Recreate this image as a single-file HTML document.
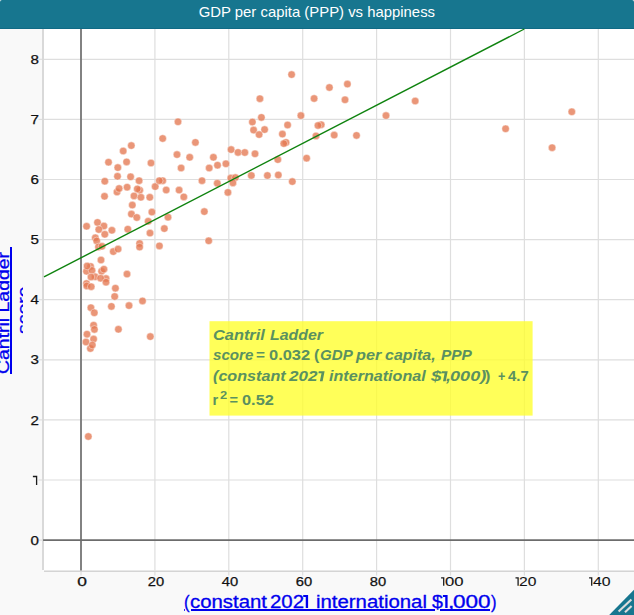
<!DOCTYPE html>
<html><head><meta charset="utf-8"><title>GDP per capita (PPP) vs happiness</title>
<style>
html,body{margin:0;padding:0;background:#f9f9f9;}
body{width:634px;height:615px;overflow:hidden;background:#f9f9f9;font-family:"Liberation Sans",sans-serif;position:relative;}
#hdr{position:absolute;left:0;top:0;width:634px;height:28px;background:#17768f;border-bottom:1px solid #106a85;border-radius:2px 2px 0 0;}
#ttl{position:absolute;left:0;top:0;width:634px;height:28px;line-height:25px;text-align:center;color:#fff;font-size:14.6px;white-space:nowrap;}
#ttl span{display:inline-block;transform:scaleX(1.02);transform-origin:50% 50%;}
svg{position:absolute;left:0;top:0;}
.yt{position:absolute;right:595.1px;transform:scaleX(1.2);transform-origin:100% 50%;font-size:12.6px;color:#111;line-height:14px;height:14px;text-align:right;-webkit-text-stroke:0.25px #111;}
.xt{position:absolute;top:574.5px;width:60px;margin-left:-30px;text-align:center;font-size:12.6px;color:#111;line-height:14px;transform:scaleX(1.17);-webkit-text-stroke:0.25px #111;}
.xt2{position:absolute;top:574.5px;font-size:12.6px;color:#111;line-height:14px;transform-origin:0 0;-webkit-text-stroke:0.1px #111;white-space:pre;}
.lnk{color:#0000ee;text-decoration:underline;white-space:nowrap;}
.xw{position:absolute;top:591.4px;font-size:17.5px;line-height:22px;transform-origin:0 0;color:#0000ee;-webkit-text-stroke:0.3px #0000ee;white-space:pre;}
#ylwrap{position:absolute;left:0;top:0;width:23.3px;height:615px;overflow:hidden;}
#yl{position:absolute;left:0;top:0;transform-origin:0 0;transform:translate(-6.5px,374px) rotate(-90deg) scaleX(1.143);font-size:17px;line-height:20px;-webkit-text-stroke:0.3px #0000ee;text-align:center;white-space:pre;text-decoration-thickness:1.5px;text-underline-offset:2px;}
.an{position:absolute;transform-origin:0 0;color:#5a9160;white-space:pre;}
.an i{font-style:italic;}
.an sup{font-size:10px;line-height:0;vertical-align:5px;}
</style></head><body>
<div id="hdr"></div>
<div id="ttl"><span id="ttls">GDP per capita (PPP) vs happiness</span></div>
<svg width="634" height="615" viewBox="0 0 634 615">
<rect x="43.1" y="29" width="596.9" height="541.6" fill="#fff"/>
<line x1="154.90" y1="29" x2="154.90" y2="570.6" stroke="#dedede" stroke-width="1.2"/>
<line x1="228.80" y1="29" x2="228.80" y2="570.6" stroke="#dedede" stroke-width="1.2"/>
<line x1="302.70" y1="29" x2="302.70" y2="570.6" stroke="#dedede" stroke-width="1.2"/>
<line x1="376.60" y1="29" x2="376.60" y2="570.6" stroke="#dedede" stroke-width="1.2"/>
<line x1="450.50" y1="29" x2="450.50" y2="570.6" stroke="#dedede" stroke-width="1.2"/>
<line x1="524.40" y1="29" x2="524.40" y2="570.6" stroke="#dedede" stroke-width="1.2"/>
<line x1="598.30" y1="29" x2="598.30" y2="570.6" stroke="#dedede" stroke-width="1.2"/>
<line x1="43.1" y1="480.00" x2="640" y2="480.00" stroke="#dedede" stroke-width="1.2"/>
<line x1="43.1" y1="419.90" x2="640" y2="419.90" stroke="#dedede" stroke-width="1.2"/>
<line x1="43.1" y1="359.80" x2="640" y2="359.80" stroke="#dedede" stroke-width="1.2"/>
<line x1="43.1" y1="299.70" x2="640" y2="299.70" stroke="#dedede" stroke-width="1.2"/>
<line x1="43.1" y1="239.60" x2="640" y2="239.60" stroke="#dedede" stroke-width="1.2"/>
<line x1="43.1" y1="179.50" x2="640" y2="179.50" stroke="#dedede" stroke-width="1.2"/>
<line x1="43.1" y1="119.40" x2="640" y2="119.40" stroke="#dedede" stroke-width="1.2"/>
<line x1="43.1" y1="59.30" x2="640" y2="59.30" stroke="#dedede" stroke-width="1.2"/>
<line x1="38.6" y1="540.10" x2="43.1" y2="540.10" stroke="#dedede" stroke-width="1.2"/>
<line x1="38.6" y1="480.00" x2="43.1" y2="480.00" stroke="#dedede" stroke-width="1.2"/>
<line x1="38.6" y1="419.90" x2="43.1" y2="419.90" stroke="#dedede" stroke-width="1.2"/>
<line x1="38.6" y1="359.80" x2="43.1" y2="359.80" stroke="#dedede" stroke-width="1.2"/>
<line x1="38.6" y1="299.70" x2="43.1" y2="299.70" stroke="#dedede" stroke-width="1.2"/>
<line x1="38.6" y1="239.60" x2="43.1" y2="239.60" stroke="#dedede" stroke-width="1.2"/>
<line x1="38.6" y1="179.50" x2="43.1" y2="179.50" stroke="#dedede" stroke-width="1.2"/>
<line x1="38.6" y1="119.40" x2="43.1" y2="119.40" stroke="#dedede" stroke-width="1.2"/>
<line x1="38.6" y1="59.30" x2="43.1" y2="59.30" stroke="#dedede" stroke-width="1.2"/>
<line x1="81.00" y1="571.6" x2="81.00" y2="575.6" stroke="#dedede" stroke-width="1.2"/>
<line x1="154.90" y1="571.6" x2="154.90" y2="575.6" stroke="#dedede" stroke-width="1.2"/>
<line x1="228.80" y1="571.6" x2="228.80" y2="575.6" stroke="#dedede" stroke-width="1.2"/>
<line x1="302.70" y1="571.6" x2="302.70" y2="575.6" stroke="#dedede" stroke-width="1.2"/>
<line x1="376.60" y1="571.6" x2="376.60" y2="575.6" stroke="#dedede" stroke-width="1.2"/>
<line x1="450.50" y1="571.6" x2="450.50" y2="575.6" stroke="#dedede" stroke-width="1.2"/>
<line x1="524.40" y1="571.6" x2="524.40" y2="575.6" stroke="#dedede" stroke-width="1.2"/>
<line x1="598.30" y1="571.6" x2="598.30" y2="575.6" stroke="#dedede" stroke-width="1.2"/>
<line x1="43.0" y1="29" x2="43.0" y2="569.9" stroke="#d9d9d9" stroke-width="2"/>
<line x1="44.0" y1="571.3" x2="640" y2="571.3" stroke="#d4d4d4" stroke-width="1.5"/>
<line x1="81.0" y1="29" x2="81.0" y2="570.6" stroke="#7c7c7c" stroke-width="1.9"/>
<line x1="43.1" y1="540.1" x2="640" y2="540.1" stroke="#6c6c6c" stroke-width="1.8"/>
<g fill="#e47852" fill-opacity="0.78" stroke="#fff" stroke-opacity="0.6" stroke-width="0.7">
<circle cx="162.7" cy="138.5" r="3.75"/>
<circle cx="131.3" cy="145.6" r="3.75"/>
<circle cx="123.2" cy="151.0" r="3.75"/>
<circle cx="177.0" cy="154.6" r="3.75"/>
<circle cx="108.5" cy="162.2" r="3.75"/>
<circle cx="126.6" cy="161.9" r="3.75"/>
<circle cx="151.0" cy="163.0" r="3.75"/>
<circle cx="117.8" cy="167.6" r="3.75"/>
<circle cx="117.5" cy="176.3" r="3.75"/>
<circle cx="130.6" cy="176.8" r="3.75"/>
<circle cx="104.8" cy="181.2" r="3.75"/>
<circle cx="139.1" cy="180.7" r="3.75"/>
<circle cx="162.7" cy="180.7" r="3.75"/>
<circle cx="155.2" cy="186.6" r="3.75"/>
<circle cx="127.1" cy="187.2" r="3.75"/>
<circle cx="117.0" cy="192.0" r="3.75"/>
<circle cx="139.7" cy="190.2" r="3.75"/>
<circle cx="166.2" cy="190.0" r="3.75"/>
<circle cx="104.5" cy="196.3" r="3.75"/>
<circle cx="134.0" cy="195.9" r="3.75"/>
<circle cx="140.9" cy="197.3" r="3.75"/>
<circle cx="149.8" cy="197.3" r="3.75"/>
<circle cx="132.3" cy="205.1" r="3.75"/>
<circle cx="131.4" cy="214.1" r="3.75"/>
<circle cx="151.9" cy="212.1" r="3.75"/>
<circle cx="136.8" cy="217.5" r="3.75"/>
<circle cx="168.0" cy="217.2" r="3.75"/>
<circle cx="148.2" cy="221.3" r="3.75"/>
<circle cx="97.5" cy="222.4" r="3.75"/>
<circle cx="86.6" cy="226.3" r="3.75"/>
<circle cx="103.9" cy="226.0" r="3.75"/>
<circle cx="98.8" cy="229.5" r="3.75"/>
<circle cx="111.9" cy="230.3" r="3.75"/>
<circle cx="127.8" cy="229.2" r="3.75"/>
<circle cx="164.3" cy="228.6" r="3.75"/>
<circle cx="179.1" cy="190.1" r="3.75"/>
<circle cx="259.9" cy="98.7" r="3.75"/>
<circle cx="261.4" cy="117.4" r="3.75"/>
<circle cx="252.4" cy="122.0" r="3.75"/>
<circle cx="178.0" cy="121.8" r="3.75"/>
<circle cx="253.6" cy="130.1" r="3.75"/>
<circle cx="264.6" cy="129.6" r="3.75"/>
<circle cx="259.1" cy="134.6" r="3.75"/>
<circle cx="195.4" cy="142.4" r="3.75"/>
<circle cx="231.1" cy="149.6" r="3.75"/>
<circle cx="238.0" cy="152.4" r="3.75"/>
<circle cx="244.8" cy="152.5" r="3.75"/>
<circle cx="255.0" cy="153.8" r="3.75"/>
<circle cx="189.7" cy="157.3" r="3.75"/>
<circle cx="213.4" cy="157.3" r="3.75"/>
<circle cx="291.6" cy="74.6" r="3.75"/>
<circle cx="347.4" cy="84.1" r="3.75"/>
<circle cx="329.4" cy="87.5" r="3.75"/>
<circle cx="314.1" cy="98.5" r="3.75"/>
<circle cx="345.0" cy="99.8" r="3.75"/>
<circle cx="300.9" cy="115.6" r="3.75"/>
<circle cx="287.6" cy="125.0" r="3.75"/>
<circle cx="321.2" cy="124.7" r="3.75"/>
<circle cx="318.0" cy="125.5" r="3.75"/>
<circle cx="282.4" cy="134.1" r="3.75"/>
<circle cx="316.0" cy="135.9" r="3.75"/>
<circle cx="334.2" cy="135.1" r="3.75"/>
<circle cx="356.5" cy="135.4" r="3.75"/>
<circle cx="286.0" cy="142.4" r="3.75"/>
<circle cx="283.8" cy="143.6" r="3.75"/>
<circle cx="277.8" cy="159.6" r="3.75"/>
<circle cx="306.6" cy="158.2" r="3.75"/>
<circle cx="415.2" cy="101.0" r="3.75"/>
<circle cx="386.0" cy="115.6" r="3.75"/>
<circle cx="505.6" cy="128.8" r="3.75"/>
<circle cx="571.8" cy="111.8" r="3.75"/>
<circle cx="552.1" cy="147.7" r="3.75"/>
<circle cx="181.1" cy="168.0" r="3.75"/>
<circle cx="217.5" cy="165.2" r="3.75"/>
<circle cx="225.9" cy="163.8" r="3.75"/>
<circle cx="209.2" cy="168.0" r="3.75"/>
<circle cx="202.0" cy="180.7" r="3.75"/>
<circle cx="217.3" cy="183.3" r="3.75"/>
<circle cx="230.8" cy="178.1" r="3.75"/>
<circle cx="235.4" cy="177.6" r="3.75"/>
<circle cx="232.9" cy="182.9" r="3.75"/>
<circle cx="251.3" cy="175.5" r="3.75"/>
<circle cx="267.4" cy="175.5" r="3.75"/>
<circle cx="183.8" cy="196.9" r="3.75"/>
<circle cx="227.9" cy="192.4" r="3.75"/>
<circle cx="204.3" cy="211.6" r="3.75"/>
<circle cx="208.7" cy="240.8" r="3.75"/>
<circle cx="278.3" cy="175.0" r="3.75"/>
<circle cx="292.3" cy="181.6" r="3.75"/>
<circle cx="104.8" cy="234.3" r="3.75"/>
<circle cx="95.3" cy="237.8" r="3.75"/>
<circle cx="96.7" cy="240.9" r="3.75"/>
<circle cx="98.5" cy="246.9" r="3.75"/>
<circle cx="102.0" cy="246.3" r="3.75"/>
<circle cx="113.3" cy="251.6" r="3.75"/>
<circle cx="139.6" cy="243.5" r="3.75"/>
<circle cx="139.6" cy="247.1" r="3.75"/>
<circle cx="101.0" cy="260.0" r="3.75"/>
<circle cx="90.6" cy="266.4" r="3.75"/>
<circle cx="101.6" cy="271.3" r="3.75"/>
<circle cx="86.5" cy="271.3" r="3.75"/>
<circle cx="92.0" cy="270.4" r="3.75"/>
<circle cx="127.0" cy="274.1" r="3.75"/>
<circle cx="95.1" cy="276.8" r="3.75"/>
<circle cx="106.0" cy="278.6" r="3.75"/>
<circle cx="86.5" cy="283.5" r="3.75"/>
<circle cx="86.8" cy="285.9" r="3.75"/>
<circle cx="115.4" cy="288.2" r="3.75"/>
<circle cx="114.7" cy="296.5" r="3.75"/>
<circle cx="90.9" cy="307.7" r="3.75"/>
<circle cx="94.3" cy="312.8" r="3.75"/>
<circle cx="111.4" cy="306.4" r="3.75"/>
<circle cx="129.0" cy="305.6" r="3.75"/>
<circle cx="93.6" cy="325.2" r="3.75"/>
<circle cx="94.4" cy="329.4" r="3.75"/>
<circle cx="118.4" cy="329.3" r="3.75"/>
<circle cx="87.0" cy="334.2" r="3.75"/>
<circle cx="93.6" cy="339.1" r="3.75"/>
<circle cx="86.0" cy="342.0" r="3.75"/>
<circle cx="90.4" cy="348.5" r="3.75"/>
<circle cx="150.0" cy="233.1" r="3.75"/>
<circle cx="159.4" cy="245.9" r="3.75"/>
<circle cx="142.5" cy="300.9" r="3.75"/>
<circle cx="150.3" cy="336.6" r="3.75"/>
<circle cx="88.3" cy="436.5" r="3.75"/>
<circle cx="87.1" cy="266.0" r="3.75"/>
<circle cx="91.0" cy="277.0" r="3.75"/>
<circle cx="100.6" cy="278.2" r="3.75"/>
<circle cx="106.0" cy="282.2" r="3.75"/>
<circle cx="103.9" cy="269.2" r="3.75"/>
<circle cx="91.2" cy="286.7" r="3.75"/>
<circle cx="119.1" cy="188.5" r="3.75"/>
<circle cx="118.1" cy="249.1" r="3.75"/>
<circle cx="92.3" cy="345.0" r="3.75"/>
<circle cx="159.3" cy="180.7" r="3.75"/>
<circle cx="137.3" cy="188.9" r="3.75"/>
</g>
<line x1="44.0" y1="276.9" x2="524.3" y2="29" stroke="#0f830f" stroke-width="1.4"/>
<rect x="209.5" y="321.2" width="323.1" height="94.4" fill="#ffff2c" fill-opacity="0.79"/>
<g fill="none" stroke="#1c1c1c" stroke-width="1.3" stroke-linejoin="miter">
<path d="M441.1,577.8 H443.7 V585.8"/>
<path d="M515.5,577.8 H518.1 V585.8"/>
<path d="M589.1,577.8 H591.7 V585.8"/>
<path d="M32.9,476.5 H36.6 V485.0"/>
</g>
<g fill="#0000ee">
<polygon points="303.2,595.1 308.1,595.1 308.1,607.9 305.75,607.9 305.75,597.05 303.2,597.05"/>
<polygon points="442.9,595.1 447.6,595.1 447.6,607.9 445.25,607.9 445.25,597.05 442.9,597.05"/>
</g>
<g fill="#5a9160">
<polygon points="318.8,371.3 324.6,371.3 322.6,381.3 319.9,381.3 321.5,373.2 318.4,373.2"/>
<polygon points="441.9,371.3 447.7,371.3 445.7,381.3 443.0,381.3 444.6,373.2 441.5,373.2"/>
</g>
<polygon points="634,589.8 634,615 609.2,615" fill="#17768f"/>
<line x1="618.6" y1="611.6" x2="631.4" y2="599.6" stroke="#dcdcdc" stroke-width="2.1"/>
<line x1="625" y1="612.2" x2="631.6" y2="605.9" stroke="#dcdcdc" stroke-width="2.1"/>
</svg>
<div class="yt" style="top:533.7px">0</div>
<div class="yt" style="top:413.5px">2</div>
<div class="yt" style="top:353.4px">3</div>
<div class="yt" style="top:293.3px">4</div>
<div class="yt" style="top:233.2px">5</div>
<div class="yt" style="top:173.1px">6</div>
<div class="yt" style="top:113.0px">7</div>
<div class="yt" style="top:52.9px">8</div>
<div class="xt" style="left:82.4px;transform:scaleX(1.38)">0</div>
<div class="xt" style="left:156.3px;transform:scaleX(1.17)">20</div>
<div class="xt" style="left:230.2px;transform:scaleX(1.17)">40</div>
<div class="xt" style="left:304.1px;transform:scaleX(1.17)">60</div>
<div class="xt" style="left:378.0px;transform:scaleX(1.17)">80</div>
<div class="xt2" style="left:444.77px;transform:scaleX(1.3254)">00</div>
<div class="xt2" style="left:519.32px;transform:scaleX(1.2391)">20</div>
<div class="xt2" style="left:593.11px;transform:scaleX(1.2548)">40</div>
<div style="position:absolute;left:10.0px;top:246.5px;width:1.95px;height:127.4px;background:#0000ee"></div>
<div id="ylwrap"><div id="yl" class="lnk" style="text-decoration:none">Cantril Ladder 
score</div></div>
<span class="xw" style="left:183.90px;transform:scaleX(0.9500)">(</span>
<span class="xw" style="left:189.68px;transform:scaleX(1.1629)">constant</span>
<span class="xw" style="left:269.88px;transform:scaleX(1.1656)">202</span>
<span class="xw" style="left:315.68px;transform:scaleX(1.1633)">international</span>
<span class="xw" style="left:431.90px;transform:scaleX(1.1200)">$</span>
<span class="xw" style="left:447.90px;transform:scaleX(1.3000)">,</span>
<span class="xw" style="left:452.67px;transform:scaleX(1.2895)">000</span>
<span class="xw" style="left:491.47px;transform:scaleX(0.9500)">)</span>
<div style="position:absolute;left:190.8px;top:609.1px;width:244.1px;height:1.9px;background:#0000ee"></div><div style="position:absolute;left:440.1px;top:609.1px;width:49.8px;height:1.9px;background:#0000ee"></div><div style="position:absolute;left:183.9px;top:609.4px;width:1.3px;height:1.7px;background:#0000ee;opacity:0.8"></div>
<span class="an" style="font:italic bold 14.6px 'Liberation Sans';line-height:18px;left:213.25px;top:325.77px;transform:scaleX(1.1210)">Cantril</span>
<span class="an" style="font:italic bold 14.6px 'Liberation Sans';line-height:18px;left:269.66px;top:325.77px;transform:scaleX(1.0887)">Ladder</span>
<span class="an" style="font:italic bold 14.6px 'Liberation Sans';line-height:18px;left:213.29px;top:346.47px;transform:scaleX(1.0374)">score</span>
<span class="an" style="font:bold 14.6px 'Liberation Sans';line-height:18px;left:256.20px;top:346.47px;transform:scaleX(1.0500)">=</span>
<span class="an" style="font:bold 14.6px 'Liberation Sans';line-height:18px;left:268.54px;top:346.47px;transform:scaleX(1.1255)">0.032</span>
<span class="an" style="font:bold 14.6px 'Liberation Sans';line-height:18px;left:314.08px;top:346.47px;transform:scaleX(1.1000)">(</span>
<span class="an" style="font:italic bold 14.6px 'Liberation Sans';line-height:18px;left:319.70px;top:346.47px;transform:scaleX(1.0342)">GDP</span>
<span class="an" style="font:italic bold 14.6px 'Liberation Sans';line-height:18px;left:356.25px;top:346.47px;transform:scaleX(1.1137)">per</span>
<span class="an" style="font:italic bold 14.6px 'Liberation Sans';line-height:18px;left:385.26px;top:346.47px;transform:scaleX(1.0939)">capita,</span>
<span class="an" style="font:italic bold 14.6px 'Liberation Sans';line-height:18px;left:440.58px;top:346.47px;transform:scaleX(1.0594)">PPP</span>
<span class="an" style="font:italic bold 14.6px 'Liberation Sans';line-height:18px;left:213.25px;top:367.37px;transform:scaleX(1.1069)">(constant</span>
<span class="an" style="font:italic bold 14.6px 'Liberation Sans';line-height:18px;left:289.22px;top:367.37px;transform:scaleX(1.1642)">202</span>
<span class="an" style="font:italic bold 14.6px 'Liberation Sans';line-height:18px;left:328.96px;top:367.37px;transform:scaleX(1.1040)">international</span>
<span class="an" style="font:italic bold 14.6px 'Liberation Sans';line-height:18px;left:431.30px;top:367.37px;transform:scaleX(1.2800)">$</span>
<span class="an" style="font:italic bold 14.6px 'Liberation Sans';line-height:18px;left:445.90px;top:367.37px;transform:scaleX(1.2000)">,</span>
<span class="an" style="font:italic bold 14.6px 'Liberation Sans';line-height:18px;left:450.48px;top:367.37px;transform:scaleX(1.2406)">000)</span>
<span class="an" style="font:bold 14.6px 'Liberation Sans';line-height:18px;left:485.48px;top:367.37px;transform:scaleX(1.1000)">)</span>
<span class="an" style="font:bold 14.6px 'Liberation Sans';line-height:18px;left:497.70px;top:367.37px;transform:scaleX(0.8600)">+</span>
<span class="an" style="font:bold 14.6px 'Liberation Sans';line-height:18px;left:507.90px;top:367.37px;transform:scaleX(1.0194)">4.7</span>
<span class="an" style="font:bold 14.6px 'Liberation Sans';line-height:18px;left:212.50px;top:391.47px;transform:scaleX(1.0000)">r</span>
<span class="an" style="font:bold 11.5px 'Liberation Sans';line-height:18px;left:219.70px;top:386.40px;transform:scaleX(1.1200)">2</span>
<span class="an" style="font:bold 14.6px 'Liberation Sans';line-height:18px;left:229.50px;top:391.47px;transform:scaleX(1.0000)">=</span>
<span class="an" style="font:bold 14.6px 'Liberation Sans';line-height:18px;left:241.75px;top:391.47px;transform:scaleX(1.1197)">0.52</span>
</body></html>
